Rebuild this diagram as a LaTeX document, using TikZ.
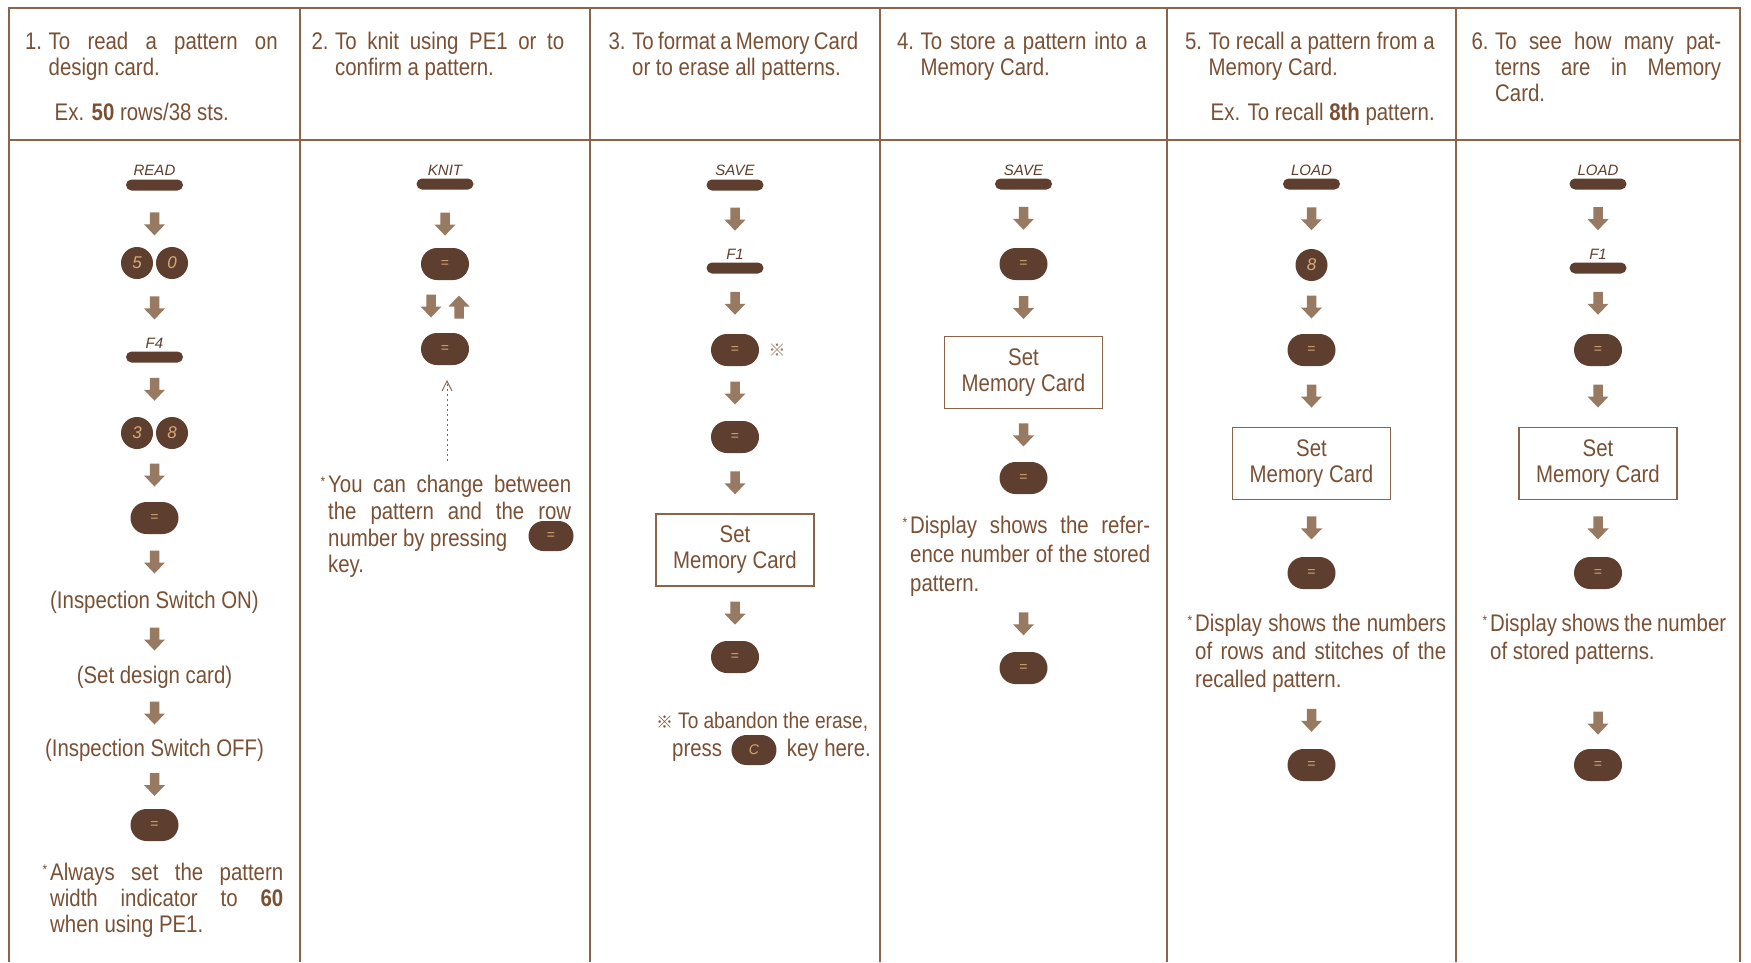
\documentclass[tikz,border=0pt]{standalone}
\usepackage{fontspec}
\setmainfont{Liberation Sans}[FakeStretch=0.85]
\newfontfamily\keyfont{Liberation Sans}
\newfontfamily\refmarkfont{Noto Sans CJK SC}
\usetikzlibrary{calc,shapes.misc,positioning}
\definecolor{txt}{RGB}{122,80,52}
\definecolor{rulec}{RGB}{140,100,72}
\definecolor{keyc}{RGB}{94,62,46}
\definecolor{arrc}{RGB}{152,122,98}
\definecolor{keyt}{RGB}{214,170,120}
\newcommand\jl[2]{{\spaceskip=.278em plus 1fil minus .1em\xspaceskip=\spaceskip\makebox[#1][s]{#2}}}
\newcommand\notemark{\llap{\raisebox{6pt}{\fontsize{14}{14}\selectfont *}\hspace{3pt}}}
\newcommand\refmark{{\refmarkfont\fontsize{17}{17}\selectfont ※}}
\newcommand\flowarrow[3][.5]{\pic at ($(#2.south)!#1!(#2.south|-#3.north)$) {darr};}
\tikzset{
  bodyfont/.style={font=\fontsize{24}{26}\selectfont, text=txt},
  txtline/.style={bodyfont, inner sep=0pt, text height=17pt, text depth=5pt},
  hdr/.style={bodyfont, anchor=north west, inner sep=0pt, align=flush left},
  notetext/.style={bodyfont, anchor=north west, inner sep=0pt, align=flush left},
  keylbl/.style={font=\keyfont\itshape\fontsize{15}{15}\selectfont, text=keyc, inner sep=0pt},
  barkey/.style={rounded rectangle, fill=keyc, minimum width=57pt, minimum height=11pt, inner sep=0pt},
  circkey/.style={circle, fill=keyc, minimum size=32pt, inner sep=0pt, text=keyt, font=\keyfont\itshape\fontsize{17}{17}\selectfont},
  ovalkey/.style={rounded rectangle, fill=keyc, minimum width=48pt, minimum height=32pt, inner sep=0pt, text=keyt, font=\keyfont\fontsize{14}{14}\selectfont},
  mcbox/.style={draw=rulec, line width=1.3pt, minimum width=158pt, minimum height=72pt, inner sep=0pt, align=flush center, bodyfont},
  rulel/.style={draw=rulec, line width=1.5pt},
  darr/.pic={\fill[arrc] (-4.75,-12) -- (4.75,-12) -- (4.75,0) -- (10.5,0) -- (0,11) -- (-10.5,0) -- (-4.75,0) -- cycle;},
  uarr/.pic={\fill[arrc] (-4.75,12) -- (4.75,12) -- (4.75,0) -- (10.5,0) -- (0,-11) -- (-10.5,0) -- (-4.75,0) -- cycle;},
}
\begin{document}
\begin{tikzpicture}[x=1pt,y=-1pt]
\useasboundingbox (0,0) rectangle (1751,962);
\def\cA{154.5}\def\cB{445}\def\cC{735}\def\cD{1023.5}\def\cE{1311.5}\def\cF{1598}
% table
\draw[rulel] (9,962) -- (9,8) -- (1740,8) -- (1740,962);
\draw[rulel] (9,140) -- (1740,140);
\foreach \x in {300,590,880,1167,1456} \draw[rulel] (\x,8) -- (\x,962);
% headers
\node[hdr, text width=229pt] (h1) at (\cA-106,32) {\jl{229pt}{\llap{1.\ }To read a pattern on}\\ design card.\\[19pt]\hspace*{6pt}Ex. \textbf{50} rows/38 sts.};
\node[hdr, text width=229pt] (h2) at (\cB-110,32) {\jl{229pt}{\llap{2.\ }To knit using PE1 or to}\\ confirm a pattern.};
\node[hdr, text width=226pt] (h3) at (\cC-103,32) {\jl{226pt}{\llap{3.\ }To format a Memory Card}\\ or to erase all patterns.};
\node[hdr, text width=226pt] (h4) at (\cD-103,32) {\jl{226pt}{\llap{4.\ }To store a pattern into a}\\ Memory Card.};
\node[hdr, text width=226pt] (h5) at (\cE-103,32) {\jl{226pt}{\llap{5.\ }To recall a pattern from a}\\ Memory Card.\\[19pt]\hspace*{2pt}Ex. To recall \textbf{8th} pattern.};
\node[hdr, text width=226pt] (h6) at (\cF-103,32) {\jl{226pt}{\llap{6.\ }To see how many pat-}\\ \jl{226pt}{terns are in Memory}\\ Card.};
% ---------- column 1
\node[keylbl] (l1) at (\cA,170) {READ};
\node[barkey] (b1) at (\cA,185) {};
\node[circkey] (k5) at (\cA-17.5,263) {5};
\node[circkey] (k0) at (\cA+17.5,263) {0};
\node[keylbl] (l2) at (\cA,343) {F4};
\node[barkey] (b2) at (\cA,357) {};
\node[circkey] (k3) at (\cA-17.5,433) {3};
\node[circkey] (k8) at (\cA+17.5,433) {8};
\node[ovalkey] (e1) at (\cA,518) {=};
\node[txtline] (ion) at (\cA,602) {(Inspection Switch ON)};
\node[txtline] (sdc) at (\cA,677) {(Set design card)};
\node[txtline] (iof) at (\cA,750) {(Inspection Switch OFF)};
\node[ovalkey] (e2) at (\cA,825) {=};
\node[notetext, text width=233pt] (n1) at (50,863) {\notemark\jl{233pt}{Always set the pattern}\\ \jl{233pt}{width indicator to \textbf{60}}\\ when using PE1.};
\pic at ($(b1.south)!.6!(b1.south|-k5.north)$) {darr};
\pic at ($(l2.north)!.5!(l2.north|-k5.south)$) {darr};
\pic at ($(b2.south)!.5!(b2.south|-k3.north)$) {darr};
\pic at ($(e1.north)!.5!(e1.north|-k3.south)$) {darr};
\flowarrow{e1}{ion}
\flowarrow{ion}{sdc}
\flowarrow{sdc}{iof}
\flowarrow{iof}{e2}
% ---------- column 2
\node[keylbl] (l3) at (\cB,170) {KNIT};
\node[barkey] (b3) at (\cB,184) {};
\node[ovalkey] (e3) at (\cB,264) {=};
\node[ovalkey] (e4) at (\cB,349) {=};
\flowarrow[.6]{b3}{e3}
\pic at ($($(e3.south)!.5!(e4.north)$)+(-14,0)$) {darr};
\pic at ($($(e3.south)!.5!(e4.north)$)+(14,0)$) {uarr};
\node[notetext, text width=243pt, font=\fontsize{24}{26.7}\selectfont] (n2) at (328,475) {\notemark\jl{243pt}{You can change between}\\ \jl{243pt}{the pattern and the row}\\ number by pressing\\ key.};
\node[ovalkey, minimum width=45pt, minimum height=30pt] (e5) at (551,536) {=};
\coordinate (dtop) at (447,381);
\coordinate (dbot) at (447,461);
\draw[rulec, line width=0.9pt, dash pattern=on 2.5pt off 2.5pt] (dbot) -- (dtop);
\draw[rulec, line width=0.9pt] ($(dtop)+(-5,10)$) -- (dtop) -- ($(dtop)+(5,10)$);
% ---------- column 3
\node[keylbl] (l4) at (\cC,170) {SAVE};
\node[barkey] (b4) at (\cC,185) {};
\node[keylbl] (l5) at (\cC,254) {F1};
\node[barkey] (b5) at (\cC,268) {};
\node[ovalkey] (e6) at (\cC,350) {=};
\node[inner sep=0pt, text=arrc] (rm1) at (\cC+42,350) {\refmark};
\node[ovalkey] (e7) at (\cC,437) {=};
\node[mcbox] (mc3) at (\cC,550) {Set\\Memory Card};
\node[ovalkey] (e8) at (\cC,657) {=};
\flowarrow{b4}{l5}
\flowarrow{b5}{e6}
\flowarrow{e6}{e7}
\flowarrow{e7}{mc3}
\flowarrow{mc3}{e8}
\node[txtline, anchor=west, font=\fontsize{22.5}{26}\selectfont] (n3) at (678,722) {\llap{\refmark\hspace{5pt}}\jl{190pt}{To abandon the erase,}};
\node[txtline, anchor=west] (pr) at (672,750) {press};
\node[ovalkey, minimum width=45pt, minimum height=30pt, right=9pt of pr] (ck) {\itshape C};
\node[txtline, right=10pt of ck] (kh) {key here.};
% ---------- column 4
\node[keylbl] (l6) at (\cD,170) {SAVE};
\node[barkey] (b6) at (\cD,184) {};
\node[ovalkey] (e9) at (\cD,264) {=};
\node[mcbox] (mc4) at (\cD,372.5) {Set\\Memory Card};
\node[ovalkey] (e10) at (\cD,478) {=};
\node[notetext, text width=240pt, font=\fontsize{24}{29}\selectfont] (n4) at (910,516) {\notemark\jl{240pt}{Display shows the refer-}\\ \jl{240pt}{ence number of the stored}\\ pattern.};
\node[ovalkey] (e11) at (\cD,668) {=};
\flowarrow{b6}{e9}
\flowarrow{e9}{mc4}
\flowarrow{mc4}{e10}
\pic at ($(e11.north)!.5!(e11.north|-n4.south)$) {darr};
% ---------- column 5
\node[keylbl] (l7) at (\cE,170) {LOAD};
\node[barkey] (b7) at (\cE,184) {};
\node[circkey] (k8b) at (\cE,265) {8};
\node[ovalkey] (e12) at (\cE,350) {=};
\node[mcbox] (mc5) at (\cE,463.5) {Set\\Memory Card};
\node[ovalkey] (e13) at (\cE,573) {=};
\node[notetext, text width=251pt, font=\fontsize{24}{28}\selectfont] (n5) at (1195,614) {\notemark\jl{251pt}{Display shows the numbers}\\ \jl{251pt}{of rows and stitches of the}\\ recalled pattern.};
\node[ovalkey] (e14) at (\cE,765) {=};
\flowarrow{b7}{k8b}
\flowarrow{k8b}{e12}
\flowarrow{e12}{mc5}
\flowarrow{mc5}{e13}
\pic at ($(e14.north)!.5!(e14.north|-n5.south)$) {darr};
% ---------- column 6
\node[keylbl] (l8) at (\cF,170) {LOAD};
\node[barkey] (b8) at (\cF,184) {};
\node[keylbl] (l9) at (\cF,254) {F1};
\node[barkey] (b9) at (\cF,268) {};
\node[ovalkey] (e15) at (\cF,350) {=};
\node[mcbox] (mc6) at (\cF,463.5) {Set\\Memory Card};
\node[ovalkey] (e16) at (\cF,573) {=};
\node[notetext, text width=236pt, font=\fontsize{24}{28}\selectfont] (n6) at (1490,614) {\notemark\jl{236pt}{Display shows the number}\\ of stored patterns.};
\node[ovalkey] (e17) at (\cF,765) {=};
\flowarrow{b8}{l9}
\flowarrow{b9}{e15}
\flowarrow{e15}{mc6}
\flowarrow{mc6}{e16}
\pic at ($(e17.north)!.3!(e17.north|-n6.south)$) {darr};
\end{tikzpicture}
\end{document}
